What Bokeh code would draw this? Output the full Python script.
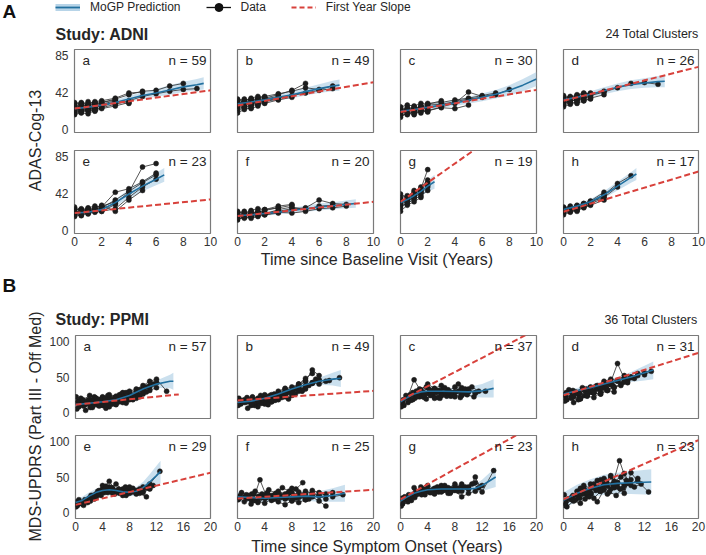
import math
from bokeh.plotting import figure
from bokeh.layouts import row, column
from bokeh.models import Range1d, Label, FixedTicker, Legend, LegendItem
from bokeh.core.properties import value
from bokeh.embed import file_html
from bokeh.resources import INLINE

FONT = "Liberation Sans"
TEXT = "#262626"
BLUE = "#22709f"
BAND = "#a9cce3"
RED = "#d8413b"
DOT = "#1c1c1c"
FRAME = "#7a7a7a"

# ---------------- ADNI (panel A) ----------------
ADNI_VISITS = [0, 0.5, 1, 1.5, 2, 3, 4, 5, 6, 7, 8, 9]
ADNI_XTICKS = [0, 2, 4, 6, 8, 10]
ADNI_YTICKS = [0, 42, 85]
ADNI_N = [59, 49, 30, 26, 23, 20, 19, 17]

adni_a_scores = [[26, 28, 27, 30, 31, 35, 40, 44, 45, 50, 53], [20, 22, 21, 23, 25, 29, 33, 38, 41, 44, 46, 47],
                 [30, 31, 29, 32, 33, 36, 42, 43], [18, 20, 22, 21, 24, 27, 31], [28, 26, 29, 27, 31, 34],
                 [22, 24, 23, 25, 27], [25, 27, 24, 28, 26, 32, 30], [19, 21, 24, 22], [23, 20, 26, 24, 29],
                 [31, 29, 32, 30], [24, 22, 27, 25, 28], [21, 25, 23, 26], [27, 30, 28, 31, 29, 33],
                 [17, 19, 18, 22]]
adni_a_t = [0, 1, 2, 3, 4, 5, 6, 7, 8, 9, 9.5]
adni_a_mean = [24, 25.5, 28, 31, 35, 39, 42, 45.5, 49, 51.5, 53]
adni_a_lo = [21.5, 23, 25.5, 28, 31.5, 35, 37.5, 40, 43, 45, 46]
adni_a_hi = [26.5, 28, 30.5, 34, 38.5, 43, 46.5, 51, 55, 58, 60]
adni_a_slope = [24, 45]

adni_b_scores = [[30, 32, 31, 34, 36, 40, 45, 53], [27, 29, 28, 31, 33, 36, 39, 42, 45, 47],
                 [33, 35, 34, 36, 38, 41, 44, 48, 46, 50], [24, 26, 27, 29, 30, 34, 37], [35, 33, 36, 38, 37],
                 [26, 28, 30, 29, 32, 35], [31, 30, 33, 35], [22, 25, 24, 27], [19, 23, 25],
                 [29, 27, 30, 32, 31], [34, 31, 35, 33], [28, 32, 29, 33, 35, 38]]
adni_b_t = [0, 1, 2, 3, 4, 5, 6, 7, 7.5]
adni_b_mean = [29.5, 31.5, 34, 37, 40, 43.5, 47, 50, 51]
adni_b_lo = [27, 29, 31, 33.5, 36, 39, 42, 44, 44.5]
adni_b_hi = [32, 34, 37, 40.5, 44, 48, 52, 56, 57.5]
adni_b_slope = [27.5, 54.4]

adni_c_scores = [[20, 22, 18, 23, 21, 26, 30, 43, 38, 40, 46], [24, 23, 26, 25, 28, 29, 32, 35, 37],
                 [16, 18, 20, 19, 22, 25, 24, 28], [26, 28, 27, 30, 29, 33], [18, 17, 21, 22, 20],
                 [22, 25, 24, 26, 30, 31, 34, 36, 39, 42], [14, 19, 17, 21], [21, 24, 22, 25, 23],
                 [25, 21, 23, 27], [19, 20, 24, 23, 25, 27]]
adni_c_t = [0, 1, 2, 3, 4, 5, 6, 7, 8, 9, 10]
adni_c_mean = [21, 23, 25.5, 28, 30.5, 33.5, 37, 40.5, 45, 51, 58]
adni_c_lo = [18.5, 20.5, 22.5, 25, 27, 29.5, 32.5, 35.5, 39, 44, 50]
adni_c_hi = [23.5, 25.5, 28.5, 31, 34, 37.5, 41.5, 45.5, 51, 58, 66]
adni_c_slope = [20, 45.5]

adni_d_scores = [[33, 35, 37, 36, 39, 43, 48, 53, 54, 52], [30, 32, 35, 33, 36, 40], [37, 36, 39, 41, 40, 44],
                 [28, 31, 30, 33, 35], [35, 38, 36, 40, 42], [31, 33, 34, 37], [26, 29, 32],
                 [34, 31, 36, 38], [39, 37, 40, 42, 41], [29, 34, 33, 36, 38]]
adni_d_t = [0, 1, 2, 3, 4, 5, 6, 7, 7.5]
adni_d_mean = [34, 37, 40.5, 44.5, 48.5, 51.5, 53.5, 55, 55.5]
adni_d_lo = [31, 34, 37, 40.5, 44, 46.5, 48, 48.5, 48.5]
adni_d_hi = [37, 40, 44, 48.5, 53, 56.5, 59, 61.5, 62.5]
adni_d_slope = [33, 72]

adni_e_scores = [[22, 20, 24, 23, 26, 35, 45, 55, 64], [18, 21, 19, 22, 25, 31, 44, 73, 77],
                 [25, 23, 26, 28, 27, 44, 48, 56, 66], [16, 18, 20, 21, 22, 25, 38, 50, 59],
                 [23, 25, 24, 26, 29, 22, 35, 46], [19, 17, 21, 23, 22, 30], [27, 24, 22, 25],
                 [21, 23, 20, 24, 26], [24, 19, 23, 22], [17, 22, 25, 24, 28, 33]]
adni_e_t = [0, 1, 2, 3, 4, 5, 6, 6.6]
adni_e_mean = [20, 21, 24, 32, 42, 51, 59, 64]
adni_e_lo = [17, 18, 21, 28, 37, 45, 52, 56]
adni_e_hi = [23, 24, 27, 36, 47, 57, 66, 72]
adni_e_slope = [20, 35.7]

adni_f_scores = [[15, 18, 16, 17, 20, 22, 25, 26, 35, 31, 30], [19, 17, 20, 21, 19, 24, 27, 24, 28, 29],
                 [13, 15, 14, 16, 18, 21, 20, 22, 25, 26, 28], [20, 22, 18, 21, 23, 26, 29],
                 [17, 14, 16, 19, 18, 20], [22, 20, 23, 25, 24, 28, 30], [12, 16, 19],
                 [18, 16, 19, 22, 20], [14, 18, 17, 20], [21, 19, 22, 20, 24, 26]]
adni_f_t = [0, 1, 2, 3, 4, 5, 6, 7, 8, 8.7]
adni_f_mean = [17, 18, 19.5, 21, 23, 25, 27, 28.5, 30, 31]
adni_f_lo = [14.5, 15.5, 17, 18.5, 20, 21.5, 23, 24.5, 25.5, 26]
adni_f_hi = [19.5, 20.5, 22, 23.5, 26, 28.5, 31, 32.5, 34.5, 36]
adni_f_slope = [16.5, 33]

adni_g_scores = [[30, 34, 38, 44, 52], [35, 33, 42, 48, 70], [28, 31, 36, 40, 46], [38, 40, 44, 50, 58],
                 [22, 29, 33, 38], [33, 36, 41, 47, 55], [42, 38, 46], [31, 38, 40, 45],
                 [26, 33, 38, 43, 50]]
adni_g_t = [0, 0.5, 1, 1.5, 2, 2.5]
adni_g_mean = [32, 35.5, 40, 45, 51, 56]
adni_g_lo = [27, 30.5, 35, 39.5, 44.5, 48]
adni_g_hi = [37, 40.5, 45, 50.5, 57.5, 64]
adni_g_slope = [33, 143]

adni_h_scores = [[24, 26, 28, 30, 32, 41, 54, 63], [21, 23, 26, 27, 31, 37], [27, 25, 29, 31, 34, 44],
                 [20, 22, 24, 26, 29, 35], [26, 28, 27, 30, 33, 38, 50], [18, 21, 23],
                 [23, 25, 22, 27, 30], [25, 23, 28, 29], [22, 26, 25, 31, 33, 40]]
adni_h_t = [0, 1, 2, 3, 4, 5, 5.4]
adni_h_mean = [24, 28, 33, 41, 51, 61, 65]
adni_h_lo = [21, 25, 30, 37, 46, 55, 58]
adni_h_hi = [27, 31, 36, 45, 56, 67, 72]
adni_h_slope = [21.5, 67.8]

# ---------------- PPMI (panel B) ----------------
PPMI_XTICKS = [0, 4, 8, 12, 16, 20]
PPMI_YTICKS = [0, 50, 100]
PPMI_N = [57, 49, 37, 31, 29, 25, 23, 23]

ppmi_a_t = [[0.5, 1.5, 2.5, 3.5, 4.5, 5.5, 6.5, 7.5], [1, 2, 3, 4, 5, 6, 7, 8, 9, 10, 11],
            [0.2, 1.2, 2.2, 3.2, 4.2, 5.2], [2, 3, 4, 5, 6, 7, 8, 9, 10, 11, 12],
            [3, 4, 5, 6, 7, 8, 9, 10, 11, 12, 13.5], [0.8, 1.8, 2.8, 3.8, 4.8, 5.8, 6.8],
            [4, 5, 6, 7, 8, 9, 10], [0.3, 1.3, 2.3, 3.3, 4.3], [5, 6, 7, 8, 9, 10, 11, 12],
            [1.5, 2.5, 3.5, 4.5, 5.5, 6.5, 7.5, 8.5, 9.5], [0.4, 1.4, 2.4, 3.4, 4.4, 5.4, 6.4, 7.4, 8.4],
            [2.5, 3.5, 4.5, 5.5, 6.5, 7.5, 8.5, 9.5, 10.5], [0.1, 1.1, 2.1, 3.1],
            [6.5, 7.5, 8.5, 9.5, 10.5, 11.5]]
ppmi_a_scores = [[8, 12, 10, 14, 13, 17, 20, 22], [15, 18, 14, 20, 22, 19, 25, 28, 30, 34, 38],
                 [5, 9, 7, 11, 10, 14], [12, 15, 13, 18, 16, 21, 24, 27, 32, 36, 42],
                 [20, 22, 25, 23, 28, 30, 33, 38, 44, 47, 30], [20, 17, 22, 19, 24, 21, 26],
                 [10, 14, 12, 16, 19, 23, 26], [14, 11, 16, 13, 17], [8, 11, 14, 18, 20, 27, 31, 35],
                 [3, 7, 9, 6, 12, 15, 13, 18, 22], [16, 13, 18, 15, 20, 17, 22, 19, 24],
                 [9, 13, 11, 15, 18, 16, 22, 25, 29], [22, 18, 24, 20], [25, 28, 24, 32, 36, 40]]
ppmi_a_mt = [0, 2, 4, 6, 8, 10, 12, 14, 14.5]
ppmi_a_mean = [11, 13, 15, 18, 24, 33, 40, 44, 44]
ppmi_a_lo = [8, 10.5, 12.5, 15.5, 21, 29, 35, 34, 32]
ppmi_a_hi = [14, 15.5, 17.5, 20.5, 27, 37, 45, 53, 56]
ppmi_a_sx = [0, 15.3]
ppmi_a_slope = [11, 25.5]

ppmi_b_t = [[0.5, 1.5, 2.5, 3.5, 4.5, 5.5, 6.5], [1, 2, 3, 4, 5, 6, 7, 8, 9, 10],
            [2, 3, 4, 5, 6, 7, 8, 9, 10, 11, 12], [0.2, 1.2, 2.2, 3.2, 4.2], [4, 5, 6, 7, 8, 9, 10, 11],
            [3, 4, 5, 6, 7, 8, 9, 10, 11, 12, 13.5], [0.8, 1.8, 2.8, 3.8, 4.8, 5.8, 6.8, 7.8],
            [6, 7, 8, 9, 10, 11, 12, 13, 15], [1.5, 2.5, 3.5, 4.5, 5.5, 6.5, 7.5, 8.5, 9.5],
            [0.4, 1.4, 2.4, 3.4, 4.4, 5.4], [2.5, 3.5, 4.5, 5.5, 6.5, 7.5, 8.5, 9.5, 10.5, 11.5],
            [0.1, 1.1, 2.1, 3.1], [5, 6, 7, 8, 9, 10, 11, 12]]
ppmi_b_scores = [[12, 15, 13, 18, 16, 20, 24], [18, 14, 20, 22, 25, 28, 33, 36, 40, 45],
                 [10, 14, 17, 15, 21, 26, 30, 37, 44, 60, 52], [20, 17, 22, 19, 23],
                 [25, 22, 30, 34, 31, 40, 48, 55], [8, 12, 15, 18, 22, 28, 32, 38, 42, 40, 45],
                 [15, 18, 16, 20, 24, 22, 27, 30], [20, 24, 28, 35, 33, 42, 46, 44, 49],
                 [6, 10, 13, 11, 17, 21, 19, 26, 30], [17, 21, 18, 24, 21, 26],
                 [14, 17, 21, 19, 25, 29, 33, 31, 38, 47], [10, 14, 12, 16], [18, 21, 26, 24, 30, 36, 41, 45]]
ppmi_b_mt = [0, 2, 4, 6, 8, 10, 12, 14, 15.2]
ppmi_b_mean = [14, 16, 20, 26, 33, 39, 44, 47, 48]
ppmi_b_lo = [11, 13, 17, 23, 29.5, 35, 39, 38, 36]
ppmi_b_hi = [17, 19, 23, 29, 36.5, 43, 49, 56, 60]
ppmi_b_sx = [0, 20]
ppmi_b_slope = [17, 30.5]

ppmi_c_t = [[0.3, 1.3, 2.3, 3.3, 4.3, 5.3, 6.3], [1, 2, 3, 4, 5, 6, 7, 8, 9],
            [2, 3, 4, 5, 6, 7, 8, 9, 10, 11, 12.5], [0.5, 1.5, 2.5, 3.5, 4.5], [3, 4, 5, 6, 7, 8, 9, 10],
            [1.8, 2.8, 3.8, 4.8, 5.8, 6.8, 7.8, 8.8, 9.8, 10.8], [4.5, 5.5, 6.5, 7.5, 8.5, 9.5, 10.5, 11.5],
            [0.8, 1.8, 2.8, 3.8, 4.8, 5.8, 6.8], [0.1, 1.1, 2.1, 3.1],
            [0.4, 1.4, 2.4, 3.4, 4.4, 5.4, 6.4, 7.4], [2.5, 3.5, 4.5, 5.5, 6.5, 7.5, 8.5, 9.5],
            [5, 6, 7, 8, 9, 10, 11]]
ppmi_c_scores = [[14, 22, 30, 26, 32, 28, 34], [20, 46, 30, 27, 33, 25, 31, 28, 24],
                 [25, 28, 35, 30, 26, 32, 29, 35, 31, 27, 30], [10, 17, 24, 21, 27],
                 [32, 40, 34, 38, 30, 36, 33, 29], [18, 22, 19, 24, 20, 23, 26, 21, 25, 22],
                 [26, 31, 35, 28, 40, 33, 36, 30], [24, 28, 33, 36, 29, 31, 27], [8, 14, 20, 23],
                 [18, 25, 22, 28, 24, 30, 26, 23], [30, 24, 28, 21, 27, 24, 30, 27], [20, 24, 28, 22, 26, 33, 28]]
ppmi_c_mt = [0, 1, 2, 3, 4, 6, 8, 10, 12, 13.7]
ppmi_c_mean = [15, 21, 26, 29, 30, 30, 29.5, 29, 30.5, 34]
ppmi_c_lo = [10, 16, 21, 24, 25, 25, 24, 22, 21, 21]
ppmi_c_hi = [20, 26, 31, 34, 35, 35, 35, 36, 40, 47]
ppmi_c_sx = [0, 20]
ppmi_c_slope = [17, 117]

ppmi_d_t = [[0.3, 1.3, 2.3, 3.3, 4.3, 5.3, 6.3, 7.3], [1, 2, 3, 4, 5, 6, 7, 8, 9],
            [0.5, 1.5, 2.5, 3.5, 4.5, 5.5], [2, 3, 4, 5, 6, 7, 8, 9, 10, 11, 12],
            [0.8, 1.8, 2.8, 3.8, 4.8, 5.8, 6.8], [3.5, 4.5, 5.5, 6.5, 7.5, 8.5, 9.5, 10.5],
            [0.1, 1.1, 2.1, 3.1, 4.1], [5, 6, 7, 8, 9, 10], [1.5, 2.5, 3.5, 4.5, 5.5, 6.5, 7.5],
            [0.4, 1.4, 2.4, 3.4, 4.4, 5.4, 6.4], [2.5, 3.5, 4.5, 5.5, 6.5, 7.5, 8.5, 9.5],
            [0.2, 1.2, 2.2], [6, 7, 8, 9, 10, 11, 12, 13]]
ppmi_d_scores = [[22, 26, 24, 30, 28, 33, 35, 38], [30, 27, 33, 36, 34, 40, 43, 69, 48],
                 [18, 22, 20, 25, 27, 26], [28, 32, 35, 33, 38, 42, 44, 47, 50, 52, 56],
                 [32, 29, 35, 31, 37, 34, 40], [26, 30, 34, 32, 36, 40, 45, 48], [25, 21, 27, 24, 29],
                 [38, 41, 39, 45, 43, 50], [14, 19, 23, 21, 28, 31, 29], [28, 31, 27, 33, 30, 36, 33],
                 [20, 24, 28, 26, 31, 35, 38, 42], [16, 20, 18], [44, 47, 45, 52, 49, 55, 53, 58]]
ppmi_d_mt = [0, 2, 4, 6, 8, 10, 12, 13.3]
ppmi_d_mean = [26, 30.5, 35, 40, 45, 50, 56, 60]
ppmi_d_lo = [22, 26.5, 31, 35.5, 40, 43, 45, 47]
ppmi_d_hi = [30, 34.5, 39, 44.5, 50, 57, 66, 72]
ppmi_d_sx = [0, 20]
ppmi_d_slope = [24.3, 84]

ppmi_e_t = [[0.3, 1.3, 2.3, 3.3, 4.3, 5.3, 6.3], [1, 2, 3, 4, 5, 6, 7, 8, 9],
            [0.5, 1.5, 2.5, 3.5, 4.5, 5.5, 6.5, 7.5, 8.5, 9.5, 10.5], [2, 3, 4, 5, 6, 7, 8, 9, 10, 11, 12.5],
            [0.1, 1.1, 2.1, 3.1], [4, 5, 6, 7, 8, 9, 10, 11], [1.8, 2.8, 3.8, 4.8, 5.8, 6.8],
            [5.5, 6.5, 7.5, 8.5, 9.5, 10.5, 11.5], [0.4, 1.4, 2.4, 3.4, 4.4, 5.4, 6.4, 7.4],
            [2.5, 3.5, 4.5, 5.5, 6.5, 7.5, 8.5, 9.5], [0.2, 1.2, 2.2], [7, 8, 9, 10, 11]]
ppmi_e_scores = [[10, 15, 24, 30, 28, 35, 31], [12, 20, 26, 33, 44, 30, 27, 32, 29],
                 [18, 16, 22, 27, 31, 34, 28, 25, 30, 27, 22], [20, 25, 29, 36, 30, 33, 27, 31, 36, 40, 58],
                 [8, 12, 18, 22], [38, 35, 40, 32, 36, 30, 28, 33], [14, 19, 24, 28, 26, 31],
                 [27, 30, 24, 29, 33, 35, 38], [13, 18, 21, 26, 34, 29, 33, 36],
                 [24, 31, 37, 33, 27, 30, 34, 31], [15, 10, 16], [24, 28, 26, 30, 34]]
ppmi_e_mt = [0, 1, 2, 3, 4, 5, 6, 7, 8, 9, 10, 11, 12, 12.6]
ppmi_e_mean = [14, 17, 23, 28, 31, 32, 31, 29, 28.5, 30, 35, 43, 52, 58]
ppmi_e_lo = [9, 12, 18, 23, 26, 27, 26, 24, 23, 24, 27, 32, 38, 41]
ppmi_e_hi = [19, 22, 28, 33, 36, 37, 36, 34, 34, 36, 43, 54, 66, 73]
ppmi_e_sx = [0, 20]
ppmi_e_slope = [10.7, 56]

ppmi_f_t = [[0.3, 1.3, 2.3, 3.3, 4.3, 5.3, 6.3, 7.3], [1, 2, 3, 4, 5, 6, 7, 8, 9, 10, 11],
            [0.6, 1.6, 2.6, 3.6, 4.6, 5.6, 6.6, 7.6, 8.6, 9.6], [2, 3, 4, 5, 6, 7, 8, 9, 10, 11, 12, 13],
            [4, 5, 6, 7, 8, 9, 10, 11, 12, 13, 14, 15.5], [0.1, 1.1, 2.1, 3.1, 4.1, 5.1],
            [6, 7, 8, 9, 10, 11, 12], [0.4, 1.4, 2.4, 3.4, 4.4, 5.4, 6.4, 7.4, 8.4],
            [2.5, 3.5, 4.5, 5.5, 6.5, 7.5, 8.5, 9.5, 10.5], [8, 9, 10, 11, 12, 13, 14]]
ppmi_f_scores = [[20, 25, 18, 46, 22, 19, 24, 21], [15, 18, 14, 20, 17, 22, 19, 16, 21, 18, 23],
                 [28, 24, 30, 26, 32, 27, 35, 30, 33, 42], [12, 16, 13, 19, 15, 11, 17, 14, 18, 22, 16, 9],
                 [24, 21, 26, 23, 28, 25, 30, 27, 24, 26, 22, 25], [18, 22, 26, 23, 20, 24],
                 [30, 26, 34, 29, 25, 31, 28], [24, 20, 26, 22, 28, 24, 21, 27, 23],
                 [17, 21, 25, 19, 23, 27, 20, 24, 19], [20, 24, 21, 26, 23, 19, 28]]
ppmi_f_mt = [0, 2, 4, 6, 8, 10, 12, 14, 15.8]
ppmi_f_mean = [22, 21, 20, 21, 22, 23, 22, 24, 27]
ppmi_f_lo = [15, 15, 14.5, 15, 16, 16.5, 15, 15, 15]
ppmi_f_hi = [29, 27.5, 26, 27, 28, 29.5, 30, 34, 39]
ppmi_f_sx = [0, 20]
ppmi_f_slope = [19.6, 32]

ppmi_g_t = [[0.3, 1.3, 2.3, 3.3, 4.3, 5.3, 6.3, 7.3], [1, 2, 3, 4, 5, 6, 7, 8, 9, 10],
            [0.6, 1.6, 2.6, 3.6, 4.6, 5.6, 6.6], [3, 4, 5, 6, 7, 8, 9, 10, 11, 12, 13.7],
            [2, 3, 4, 5, 6, 7, 8, 9, 10, 11], [0.1, 1.1, 2.1, 3.1], [5, 6, 7, 8, 9, 10, 11, 12],
            [0.4, 1.4, 2.4, 3.4, 4.4, 5.4, 6.4, 7.4, 8.4], [2.5, 3.5, 4.5, 5.5, 6.5, 7.5, 8.5, 9.5, 10.5, 11.5],
            [0.2, 1.2, 2.2]]
ppmi_g_scores = [[12, 20, 26, 30, 28, 33, 31, 27], [18, 24, 36, 30, 34, 38, 32, 36, 30, 34],
                 [22, 17, 28, 25, 31, 29, 35], [28, 33, 30, 36, 34, 40, 37, 33, 50, 29, 59],
                 [35, 30, 38, 33, 29, 35, 31, 22, 27, 30], [9, 15, 21, 25], [26, 30, 27, 32, 40, 36, 42, 38],
                 [15, 22, 28, 33, 30, 36, 32, 29, 34], [26, 31, 28, 35, 38, 33, 30, 36, 40, 35], [20, 25, 29]]
ppmi_g_mt = [0, 1, 2, 3, 4, 6, 8, 10, 11, 12, 13, 14]
ppmi_g_mean = [16, 22, 27, 30, 32, 33, 33, 33, 34, 38, 44, 50]
ppmi_g_lo = [11, 17, 22, 25, 27, 28, 28, 27.5, 28, 30, 33, 36]
ppmi_g_hi = [21, 27, 32, 35, 37, 38, 38, 38.5, 40, 46, 55, 64]
ppmi_g_sx = [0, 20]
ppmi_g_slope = [18.6, 124.6]

ppmi_h_t = [[0.3, 1.3, 2.3, 3.3, 4.3, 5.3, 6.3, 7.3, 8.3, 9.3], [1, 2, 3, 4, 5, 6, 7, 8, 9, 10, 11],
            [0.5, 1.5, 2.5, 3.5, 4.5, 5.5, 6.5, 7.5], [2, 3, 4, 5, 6, 7, 8, 9, 10, 11, 12.6],
            [0.1, 1.1, 2.1, 3.1, 4.1], [4, 5, 6, 7, 8, 9, 10], [1.8, 2.8, 3.8, 4.8, 5.8, 6.8, 7.8, 8.8],
            [0.4, 1.4, 2.4, 3.4, 4.4, 5.4, 6.4, 7.4, 8.4], [2.5, 3.5, 4.5, 5.5, 6.5, 7.5, 8.5, 9.5, 10.5, 11.5],
            [0.2, 1.2, 2.2, 3.2]]
ppmi_h_scores = [[12, 22, 30, 27, 38, 33, 44, 40, 73, 45], [20, 25, 35, 28, 15, 32, 50, 42, 55, 38, 48],
                 [8, 16, 13, 24, 20, 30, 26, 35], [30, 38, 34, 45, 40, 52, 36, 27, 56, 44, 29],
                 [25, 20, 28, 32, 26], [40, 36, 48, 33, 42, 38, 46], [18, 26, 22, 31, 37, 29, 24, 34],
                 [16, 24, 20, 28, 35, 30, 42, 38, 33], [34, 28, 40, 46, 37, 44, 50, 41, 36, 40],
                 [10, 18, 22, 19]]
ppmi_h_mt = [0, 2, 4, 6, 8, 10, 13]
ppmi_h_mean = [17, 27, 34, 39, 41, 42, 43]
ppmi_h_lo = [6, 15, 21, 25, 26, 26, 25]
ppmi_h_hi = [28, 39, 47, 53, 56, 58, 61]
ppmi_h_sx = [0, 20]
ppmi_h_slope = [18.6, 102]

LETTERS = ["a", "b", "c", "d", "e", "f", "g", "h"]

adni_panels = [
    (adni_a_scores, adni_a_t, adni_a_mean, adni_a_lo, adni_a_hi, adni_a_slope),
    (adni_b_scores, adni_b_t, adni_b_mean, adni_b_lo, adni_b_hi, adni_b_slope),
    (adni_c_scores, adni_c_t, adni_c_mean, adni_c_lo, adni_c_hi, adni_c_slope),
    (adni_d_scores, adni_d_t, adni_d_mean, adni_d_lo, adni_d_hi, adni_d_slope),
    (adni_e_scores, adni_e_t, adni_e_mean, adni_e_lo, adni_e_hi, adni_e_slope),
    (adni_f_scores, adni_f_t, adni_f_mean, adni_f_lo, adni_f_hi, adni_f_slope),
    (adni_g_scores, adni_g_t, adni_g_mean, adni_g_lo, adni_g_hi, adni_g_slope),
    (adni_h_scores, adni_h_t, adni_h_mean, adni_h_lo, adni_h_hi, adni_h_slope),
]
ppmi_panels = [
    (ppmi_a_t, ppmi_a_scores, ppmi_a_mt, ppmi_a_mean, ppmi_a_lo, ppmi_a_hi, ppmi_a_sx, ppmi_a_slope),
    (ppmi_b_t, ppmi_b_scores, ppmi_b_mt, ppmi_b_mean, ppmi_b_lo, ppmi_b_hi, ppmi_b_sx, ppmi_b_slope),
    (ppmi_c_t, ppmi_c_scores, ppmi_c_mt, ppmi_c_mean, ppmi_c_lo, ppmi_c_hi, ppmi_c_sx, ppmi_c_slope),
    (ppmi_d_t, ppmi_d_scores, ppmi_d_mt, ppmi_d_mean, ppmi_d_lo, ppmi_d_hi, ppmi_d_sx, ppmi_d_slope),
    (ppmi_e_t, ppmi_e_scores, ppmi_e_mt, ppmi_e_mean, ppmi_e_lo, ppmi_e_hi, ppmi_e_sx, ppmi_e_slope),
    (ppmi_f_t, ppmi_f_scores, ppmi_f_mt, ppmi_f_mean, ppmi_f_lo, ppmi_f_hi, ppmi_f_sx, ppmi_f_slope),
    (ppmi_g_t, ppmi_g_scores, ppmi_g_mt, ppmi_g_mean, ppmi_g_lo, ppmi_g_hi, ppmi_g_sx, ppmi_g_slope),
    (ppmi_h_t, ppmi_h_scores, ppmi_h_mt, ppmi_h_mean, ppmi_h_lo, ppmi_h_hi, ppmi_h_sx, ppmi_h_slope),
]

# ---------------- layout constants ----------------
COL_W = [177, 163, 163, 157]
COL_L = [28, 14, 14, 14]
COL_R = [13, 13, 13, 8]


def blank(w, h):
    f = figure(width=w, height=h, x_range=Range1d(0, w), y_range=Range1d(0, h),
               output_backend="svg", toolbar_location=None, min_border=0)
    f.title.visible = False
    f.xaxis.visible = False
    f.yaxis.visible = False
    f.xgrid.visible = False
    f.ygrid.visible = False
    f.outline_line_color = None
    return f


def txt(f, x, y, s, size, bold=False, align="left", color=TEXT):
    f.add_layout(Label(x=x, y=y, text=s, text_font=FONT, text_font_size=f"{size}px",
                       text_font_style="bold" if bold else "normal", text_color=color,
                       text_align=align, text_baseline="middle"))


def vtxt(f, x, y, s, size):
    f.text(x=[x], y=[y], text=[s], angle=math.pi / 2, text_align="center", text_baseline="middle",
           text_font=value(FONT), text_font_size=value(f"{size}px"), text_color=TEXT)


def panel(col, h, t, b, bottom, xmax, yr, xticks, yticks, letter, n,
          traj_x, traj_y, mt, mean, lo, hi, sx, sy):
    p = figure(width=COL_W[col], height=h, x_range=Range1d(0, xmax), y_range=Range1d(*yr),
               output_backend="svg", toolbar_location=None,
               min_border_left=COL_L[col], min_border_right=COL_R[col],
               min_border_top=t, min_border_bottom=b)
    p.title.visible = False
    p.xgrid.visible = False
    p.ygrid.visible = False
    p.outline_line_color = FRAME
    p.outline_line_width = 1.2
    xa = p.xaxis[0]
    ya = p.yaxis[0]
    for ax in (xa, ya):
        ax.axis_line_color = None
        ax.major_tick_line_color = None
        ax.minor_tick_line_color = None
        ax.major_tick_out = 0
        ax.major_tick_in = 0
        ax.minor_tick_out = 0
        ax.minor_tick_in = 0
        ax.major_label_text_font = FONT
        ax.major_label_text_font_size = "12px"
        ax.major_label_text_color = "#333333"
    xa.ticker = FixedTicker(ticks=xticks)
    ya.ticker = FixedTicker(ticks=yticks)
    xa.major_label_standoff = 3
    ya.major_label_standoff = 6
    xa.visible = bottom
    ya.visible = (col == 0)

    p.varea(x=mt, y1=lo, y2=hi, fill_color=BAND, fill_alpha=0.6)
    p.multi_line(xs=traj_x, ys=traj_y, line_color="#2e2e2e", line_width=0.9, line_alpha=0.9)
    flat_x = [v for tr in traj_x for v in tr]
    flat_y = [v for tr in traj_y for v in tr]
    p.scatter(flat_x, flat_y, size=5, fill_color=DOT, line_color=DOT, line_width=0.5)
    p.line(mt, mean, line_color=BLUE, line_width=1.6)
    p.line(sx, sy, line_color=RED, line_width=2, line_dash="6 3")

    p.add_layout(Label(x=0, y=yr[1], x_offset=8, y_offset=-11, text=letter, text_font=FONT,
                       text_font_size="13.5px", text_color=TEXT, text_align="left", text_baseline="middle"))
    p.add_layout(Label(x=xmax, y=yr[1], x_offset=-4, y_offset=-11, text=f"n = {n}", text_font=FONT,
                       text_font_size="13.5px", text_color=TEXT, text_align="right", text_baseline="middle"))
    return p


ADNI_YR = (-3.5, 92)
PPMI_YR = (-8.5, 108.5)
A_ROWS = [(98, 6, 9, False), (111, 9, 19, True)]
B_ROWS = [(97, 6, 8, False), (111, 9, 19, True)]

a_figs = []
for i, (scores, mt, mean, lo, hi, slope) in enumerate(adni_panels):
    r, c = divmod(i, 4)
    h, t, b, bottom = A_ROWS[r]
    tx = [ADNI_VISITS[:len(s)] for s in scores]
    a_figs.append(panel(c, h, t, b, bottom, 10, ADNI_YR, ADNI_XTICKS, ADNI_YTICKS, LETTERS[i], ADNI_N[i],
                        tx, scores, mt, mean, lo, hi, [0, 10], slope))

b_figs = []
for i, (tx, scores, mt, mean, lo, hi, sx, slope) in enumerate(ppmi_panels):
    r, c = divmod(i, 4)
    h, t, b, bottom = B_ROWS[r]
    b_figs.append(panel(c, h, t, b, bottom, 20, PPMI_YR, PPMI_XTICKS, PPMI_YTICKS, LETTERS[i], PPMI_N[i],
                        tx, scores, mt, mean, lo, hi, sx, slope))

# ---------------- header A with legend ----------------
hA = blank(706, 43)
txt(hA, 2, 32, "A", 19, bold=True, color="#111111")
txt(hA, 55, 9, "Study: ADNI", 16, bold=True)
txt(hA, 698, 10, "24 Total Clusters", 12.5, align="right")
OFF = [-100]
r_band = hA.line(x=OFF, y=OFF, line_color="#b7d4e8", line_width=7)
r_mean = hA.line(x=OFF, y=OFF, line_color=BLUE, line_width=1.8)
r_dl = hA.line(x=OFF, y=OFF, line_color="#111111", line_width=1.3)
r_dp = hA.scatter(x=OFF, y=OFF, fill_color="#111111", line_color="#111111", size=8)
r_sl = hA.line(x=OFF, y=OFF, line_color=RED, line_width=1.8, line_dash="5 3")
legend = Legend(items=[LegendItem(label="MoGP Prediction", renderers=[r_band, r_mean]),
                       LegendItem(label="Data", renderers=[r_dl, r_dp]),
                       LegendItem(label="First Year Slope", renderers=[r_sl])],
                location=(55, 26), orientation="horizontal", glyph_width=25, glyph_height=20,
                label_standoff=10, spacing=25, padding=0, margin=0, border_line_color=None,
                background_fill_alpha=0, label_text_font=FONT, label_text_font_size="12px",
                label_text_color=TEXT, label_height=14)
hA.add_layout(legend)

# ---------------- side titles ----------------
ytA = blank(46, 225)
vtxt(ytA, 35, 128, "ADAS-Cog-13", 16)
xtA = blank(660, 16)
txt(xtA, 330.5, 9, "Time since Baseline Visit (Years)", 16, align="center")

ytB = blank(46, 286)
txt(ytB, 2, 269, "B", 19, bold=True, color="#111111")
vtxt(ytB, 35, 128, "MDS-UPDRS (Part III - Off Med)", 16)
hB = blank(660, 61)
txt(hB, 9, 10, "Study: PPMI", 16, bold=True)
txt(hB, 651, 10, "36 Total Clusters", 12.5, align="right")
xtB = blank(660, 17)
txt(xtB, 330.5, 8, "Time since Symptom Onset (Years)", 16, align="center")

secA = row(ytA, column(row(*a_figs[:4]), row(*a_figs[4:]), xtA))
secB = row(ytB, column(hB, row(*b_figs[:4]), row(*b_figs[4:]), xtB))
layout = column(hA, secA, secB)

open("out.html", "w").write(file_html(layout, INLINE))
